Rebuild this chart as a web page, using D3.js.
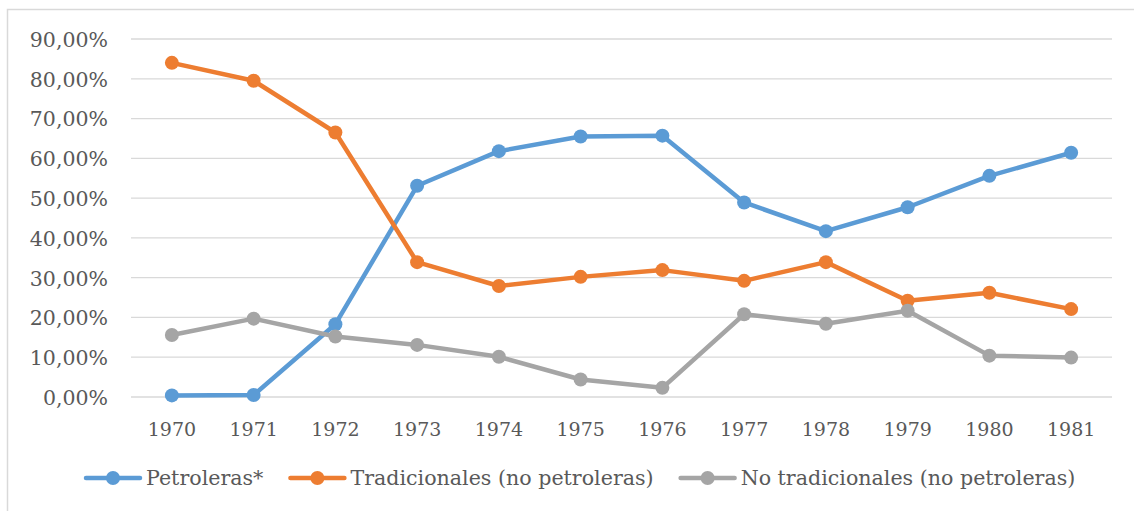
<!DOCTYPE html>
<html>
<head>
<meta charset="utf-8">
<script src="https://cdn.jsdelivr.net/npm/d3@7"></script>
<style>
  html, body { margin: 0; padding: 0; background: #fff; }
  svg { display: block; }
</style>
</head>
<body>
<svg id="chart" width="1134" height="511"></svg>
<script>
const years = ["1970","1971","1972","1973","1974","1975","1976","1977","1978","1979","1980","1981"];
const petroleras = [0.4, 0.5, 18.3, 53.1, 61.8, 65.5, 65.7, 48.9, 41.7, 47.7, 55.6, 61.4];
const tradicionales = [84.0, 79.5, 66.5, 33.9, 27.9, 30.2, 31.9, 29.2, 33.9, 24.2, 26.2, 22.1];
const noTradicionales = [15.6, 19.7, 15.2, 13.1, 10.1, 4.4, 2.3, 20.8, 18.4, 21.7, 10.4, 9.9];
const yTicks = [0, 10, 20, 30, 40, 50, 60, 70, 80, 90];
const seriesNames = ["Petroleras*", "Tradicionales (no petroleras)", "No tradicionales (no petroleras)"];
const seriesColors = ["#5B9BD5", "#ED7D31", "#A5A5A5"];
const series = [petroleras, tradicionales, noTradicionales];

(function () {
const svg = d3.select("#chart");
const W = 1134, H = 511;
const mLeft = 131, mRight = 1112, mTop = 39, mBottom = 397;
const font = "'DejaVu Serif', Georgia, serif";
const textColor = "#595959";

// chart border (top and left edges visible)
svg.append("rect").attr("x", 7.5).attr("y", 9.5).attr("width", W + 10).attr("height", H + 10)
  .attr("fill", "#fff").attr("stroke", "#D9D9D9").attr("stroke-width", 1.5);

const x = d3.scaleBand().domain(years).range([mLeft, mRight]);
const y = d3.scaleLinear().domain([0, 90]).range([mBottom, mTop]);

// gridlines
svg.append("g").selectAll("line").data(yTicks).join("line")
  .attr("x1", mLeft).attr("x2", mRight)
  .attr("y1", d => y(d)).attr("y2", d => y(d))
  .attr("stroke", "#D9D9D9").attr("stroke-width", 1.3);

// y axis labels
const yAxis = d3.axisLeft(y).tickValues(yTicks).tickSize(0).tickPadding(0)
  .tickFormat(d => d3.format(".2f")(d).replace(".", ",") + "%");
const gy = svg.append("g").attr("transform", "translate(108,0)").call(yAxis);
gy.select(".domain").remove();
gy.selectAll("text").attr("font-family", font).attr("font-size", 20.5).attr("fill", textColor)
  .attr("dy", "0.36em");

// x axis labels
const xAxis = d3.axisBottom(x).tickSize(0).tickPadding(0);
const gx = svg.append("g").attr("transform", "translate(0,422)").call(xAxis);
gx.select(".domain").remove();
gx.selectAll("text").attr("font-family", font).attr("font-size", 19).attr("fill", textColor)
  .attr("dy", "0.71em");

// lines and markers
const cx = d => x(d) + x.bandwidth() / 2;
const line = d3.line().x((d, i) => cx(years[i])).y(d => y(d));
series.forEach((s, k) => {
  svg.append("path").datum(s).attr("d", line)
    .attr("fill", "none").attr("stroke", seriesColors[k]).attr("stroke-width", 4.5)
    .attr("stroke-linejoin", "round").attr("stroke-linecap", "round");
  svg.append("g").selectAll("circle").data(s).join("circle")
    .attr("cx", (d, i) => cx(years[i])).attr("cy", d => y(d)).attr("r", 7)
    .attr("fill", seriesColors[k]);
});

// legend
const legY = 478;
let lx = 86;
seriesNames.forEach((name, k) => {
  const g = svg.append("g");
  g.append("line").attr("x1", lx).attr("x2", lx + 54).attr("y1", legY).attr("y2", legY)
    .attr("stroke", seriesColors[k]).attr("stroke-width", 4.5).attr("stroke-linecap", "round");
  g.append("circle").attr("cx", lx + 27).attr("cy", legY).attr("r", 7).attr("fill", seriesColors[k]);
  const t = g.append("text").attr("x", lx + 60).attr("y", legY).attr("dy", "0.35em")
    .attr("font-family", font).attr("font-size", 20.6).attr("fill", textColor).text(name);
  const w = t.node().getComputedTextLength();
  lx = lx + 60 + w + 27;
});
})();
</script>
</body>
</html>
